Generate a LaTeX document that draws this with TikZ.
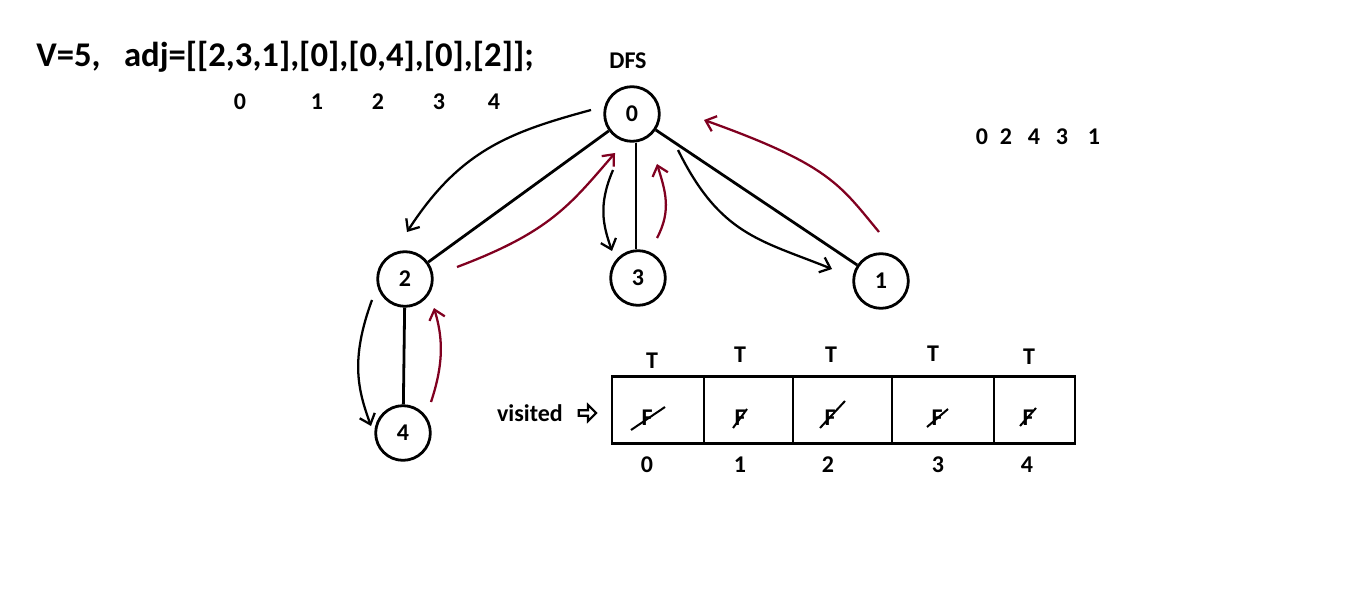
\documentclass[tikz,border=0pt]{standalone}
\usepackage{fontspec}
\setmainfont{Carlito}
\usetikzlibrary{arrows.meta,shapes.arrows}
\definecolor{backred}{RGB}{128,0,32}
\begin{document}
\begin{tikzpicture}[x=0.75pt,y=-0.75pt,
  font=\bfseries,
  vertex/.style={circle,draw,line width=2.1pt,minimum size=41pt,inner sep=0pt,font=\bfseries\fontsize{18}{21}\selectfont},
  edge/.style={line width=2.1pt},
  go/.style={line width=1.7pt,-{Straight Barb[length=7pt,width=12pt,line width=1.7pt]}},
  back/.style={go,draw=backred},
  lbl/.style={inner sep=0pt,font=\bfseries\fontsize{18}{21}\selectfont},
  cell/.style={draw,line width=2.1pt,minimum height=50pt,inner sep=0pt},
  strike/.style={line width=1.5pt}]
\useasboundingbox (0,0) rectangle (1360,613);

% header text
\node[anchor=west,inner sep=0pt,font=\bfseries\fontsize{26}{30}\selectfont] (head) at (36,57) {V=5,\ \ \ adj=[[2,3,1],[0],[0,4],[0],[2]];};
\foreach \x/\t [count=\i] in {240/0,317/1,378/2,439/3,494/4}
  \node[lbl] (idx\i) at (\x,102) {\t};
\node[lbl] (dfs) at (628,61) {DFS};
% visiting order
\foreach \x/\t [count=\i] in {982/0,1006/2,1034/4,1062/3,1094/1}
  \node[lbl] (ord\i) at (\x,137) {\t};

% graph
\node[vertex] (n0) at (632,114) {0};
\node[vertex] (n2) at (405,279) {2};
\node[vertex] (n3) at (638,278) {3};
\node[vertex] (n1) at (881,281) {1};
\node[vertex] (n4) at (403,433) {4};
\draw[edge] (n0) -- (n2);
\draw[edge] (n0.south) ++(4,0) coordinate (n0b) -- (n0b |- n3.north);
\draw[edge] (n0) -- (n1);
\draw[edge] (n2) -- (n4);

% traversal arrows
\coordinate (a1s) at (591,110); \coordinate (a1e) at (407,232);
\draw[go] (a1s) .. controls (510,132) and (460,150) .. (a1e);
\coordinate (a2s) at (613,170); \coordinate (a2e) at (612,251);
\draw[go] (a2s) .. controls (598,205) and (603,225) .. (a2e);
\coordinate (a3s) at (678,150); \coordinate (a3e) at (832,269);
\draw[go] (a3s) .. controls (720,235) and (760,240) .. (a3e);
\coordinate (a4s) at (372,300); \coordinate (a4e) at (371,426);
\draw[go] (a4s) .. controls (350,360) and (358,390) .. (a4e);

% return arrows
\coordinate (b1s) at (457,267); \coordinate (b1e) at (615,153);
\draw[back] (b1s) .. controls (550,232) and (570,205) .. (b1e);
\coordinate (b2s) at (657,238); \coordinate (b2e) at (657,164);
\draw[back] (b2s) .. controls (672,210) and (665,190) .. (b2e);
\coordinate (b3s) at (879,232); \coordinate (b3e) at (704,120);
\draw[back] (b3s) .. controls (840,185) and (830,165) .. (b3e);
\coordinate (b4s) at (431,402); \coordinate (b4e) at (434,308);
\draw[back] (b4s) .. controls (445,360) and (442,335) .. (b4e);

% visited array
\node[lbl,anchor=east] (vis) at (563,413) {visited};
\node[single arrow,draw,line width=1.6pt,minimum height=13pt,minimum width=12pt,
  single arrow head extend=2.5pt,inner sep=0.5pt] (pt) at (586,413) {};
\foreach \l/\r/\tx/\ty/\ix [count=\i from 0] in
  {612/704/652/361/647, 704/793/740/355/740, 793/892/831/355/828, 892/994/933/354/938, 994/1075/1029/357/1027} {
  \node[cell,minimum width={(\r-\l)*0.75pt}] (c\i) at ({(\l+\r)/2},410) {};
  \node[lbl] (t\i) at (\tx,\ty) {T};
  \node[lbl] (i\i) at (\ix,465) {\i};
}
\node[lbl] (f0) at (647,418) {F};
\node[lbl] (f1) at (740,418) {F};
\node[lbl] (f2) at (830,418) {F};
\node[lbl] (f3) at (937,418) {F};
\node[lbl] (f4) at (1028,418) {F};
\draw[strike] (f0.center) ++(-16,12) -- ++(34,-23);
\draw[strike] (f1.center) ++(-7,10) -- ++(14,-19);
\draw[strike] (f2.center) ++(-10,10) -- ++(25,-27);
\draw[strike] (f3.center) ++(-10,9) -- ++(21,-18);
\draw[strike] (f4.center) ++(-8,8) -- ++(16,-18);
\end{tikzpicture}
\end{document}
